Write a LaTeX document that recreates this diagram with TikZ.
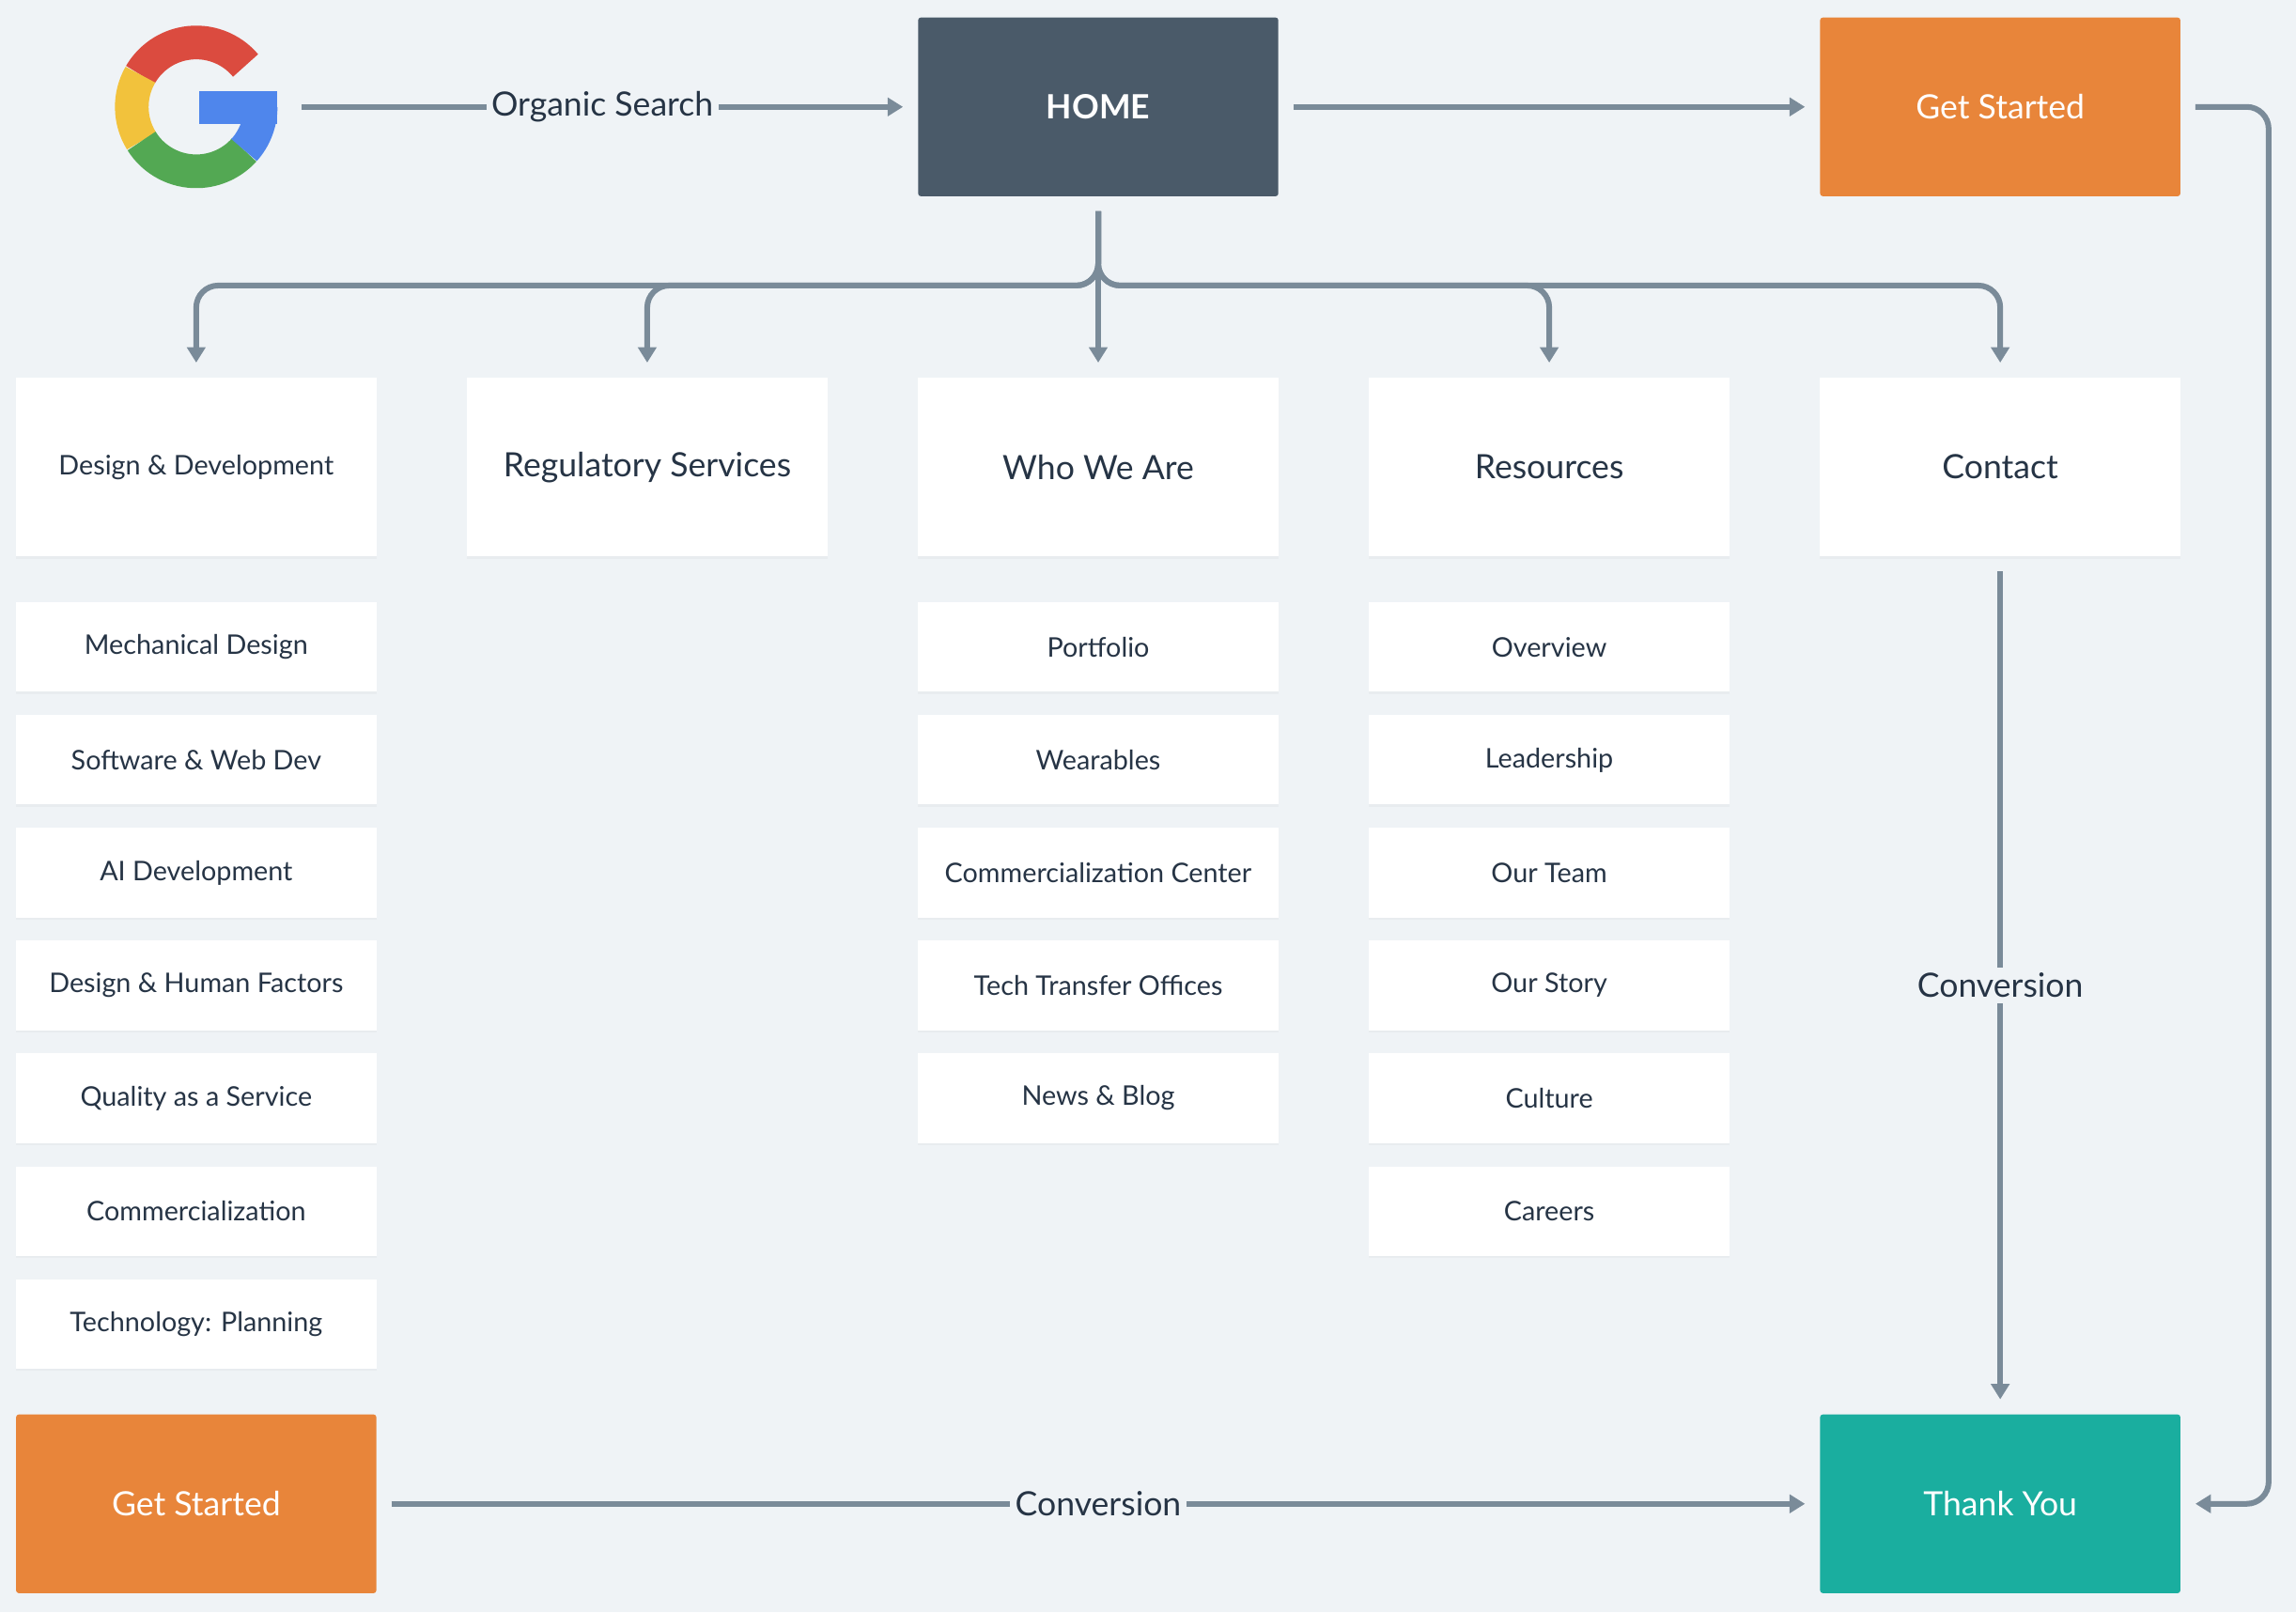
\documentclass[tikz,border=0pt]{standalone}
\usepackage{fontspec}
\setmainfont{Lato}
\usetikzlibrary{arrows.meta,positioning,calc,shadows}
\definecolor{bgc}{HTML}{EFF3F6}
\definecolor{darkc}{HTML}{4A5A69}
\definecolor{orangec}{HTML}{E8853A}
\definecolor{tealc}{HTML}{1AAE9F}
\definecolor{linec}{HTML}{7A8B99}
\definecolor{textc}{HTML}{263445}
\definecolor{gred}{HTML}{DB4B3F}
\definecolor{gyellow}{HTML}{F2C23C}
\definecolor{ggreen}{HTML}{53A853}
\definecolor{gblue}{HTML}{4F86EC}
\begin{document}
\begin{tikzpicture}[x=0.02cm, y=-0.02cm,
    page/.style={rectangle, fill=white, minimum width=4.92cm, minimum height=2.44cm, text=textc, font=\fontsize{13}{15}\selectfont, drop shadow={opacity=0.06, shadow xshift=0pt, shadow yshift=-1pt}},
    sub/.style={rectangle, fill=white, minimum width=4.92cm, minimum height=1.22cm, text=textc, font=\fontsize{10.5}{12}\selectfont, drop shadow={opacity=0.06, shadow xshift=0pt, shadow yshift=-1pt}},
    big/.style={rectangle, minimum width=4.92cm, minimum height=2.44cm, text=white, font=\fontsize{13}{15}\selectfont, rounded corners=1pt},
    arrow/.style={-{Triangle[length=6pt,width=7pt]}, line width=2.2pt, draw=linec},
    lbl/.style={fill=bgc, text=textc, font=\fontsize{13}{15}\selectfont, inner sep=2pt}
]
    \fill[bgc] (0,0) rectangle (1568,1101);
    % Google logo
    \begin{scope}[shift={(134,73)}, yscale=-1]
        \draw[line width=0.46cm, gred] (40:44) arc[start angle=40, end angle=150, radius=44];
        \draw[line width=0.46cm, gyellow] (150:44) arc[start angle=150, end angle=212, radius=44];
        \draw[line width=0.46cm, ggreen] (212:44) arc[start angle=212, end angle=318, radius=44];
        \draw[line width=0.46cm, gblue] (318:44) arc[start angle=318, end angle=360, radius=44];
        \fill[gblue] (2,-12) rectangle (55.5,11);
    \end{scope}
    \coordinate (google) at (206,73);
    % top row
    \node[big, fill=darkc, font=\fontsize{13}{15}\selectfont\bfseries] (home) at (750,73) {HOME};
    \node[big, fill=orangec] (gs1) at (1366,73) {Get Started};
    \node[big, fill=orangec] (gs2) at (134,1027) {Get Started};
    \node[big, fill=tealc] (thanks) at (1366,1027) {Thank You};
    % main pages
    \node[page, font=\fontsize{10.5}{12}\selectfont] (design) at (134,319) {Design \& Development};
    \node[page] (reg) at (442,319) {Regulatory Services};
    \node[page] (who) at (750,319) {Who We Are};
    \node[page] (res) at (1058,319) {Resources};
    \node[page] (contact) at (1366,319) {Contact};
    % sub pages
    \foreach \t [count=\i] in {Mechanical Design, Software \& Web Dev, AI Development, Design \& Human Factors, Quality as a Service, Commercialization, Technology: Planning}
        \node[sub] (design\i) at (134,365+77*\i) {\t};
    \foreach \t [count=\i] in {Portfolio, Wearables, Commercialization Center, Tech Transfer Offices, News \& Blog}
        \node[sub] (who\i) at (750,365+77*\i) {\t};
    \foreach \t [count=\i] in {Overview, Leadership, Our Team, Our Story, Culture, Careers}
        \node[sub] (res\i) at (1058,365+77*\i) {\t};
    % connectors
    \draw[arrow] (google) -- node[lbl] {Organic Search} ([xshift=-0.2cm]home.west);
    \draw[arrow] ([xshift=0.2cm]home.east) -- ([xshift=-0.2cm]gs1.west);
    \draw[arrow] ([xshift=0.2cm]gs2.east) -- node[lbl] {Conversion} ([xshift=-0.2cm]thanks.west);
    \draw[arrow, rounded corners=0.3cm] ([xshift=0.2cm]gs1.east) -| ([xshift=1.2cm]gs1.east |- thanks.east) -- ([xshift=0.2cm]thanks.east);
    \draw[arrow] ([yshift=-0.2cm]contact.south) -- node[lbl] {Conversion} ([yshift=0.2cm]thanks.north);
    \coordinate (fork) at (750,195);
    \foreach \n in {design, reg, who, res, contact}
        \draw[arrow, rounded corners=0.3cm] ([yshift=-0.2cm]home.south) -- (fork) -| ([yshift=0.2cm]\n.north);
\end{tikzpicture}
\end{document}
